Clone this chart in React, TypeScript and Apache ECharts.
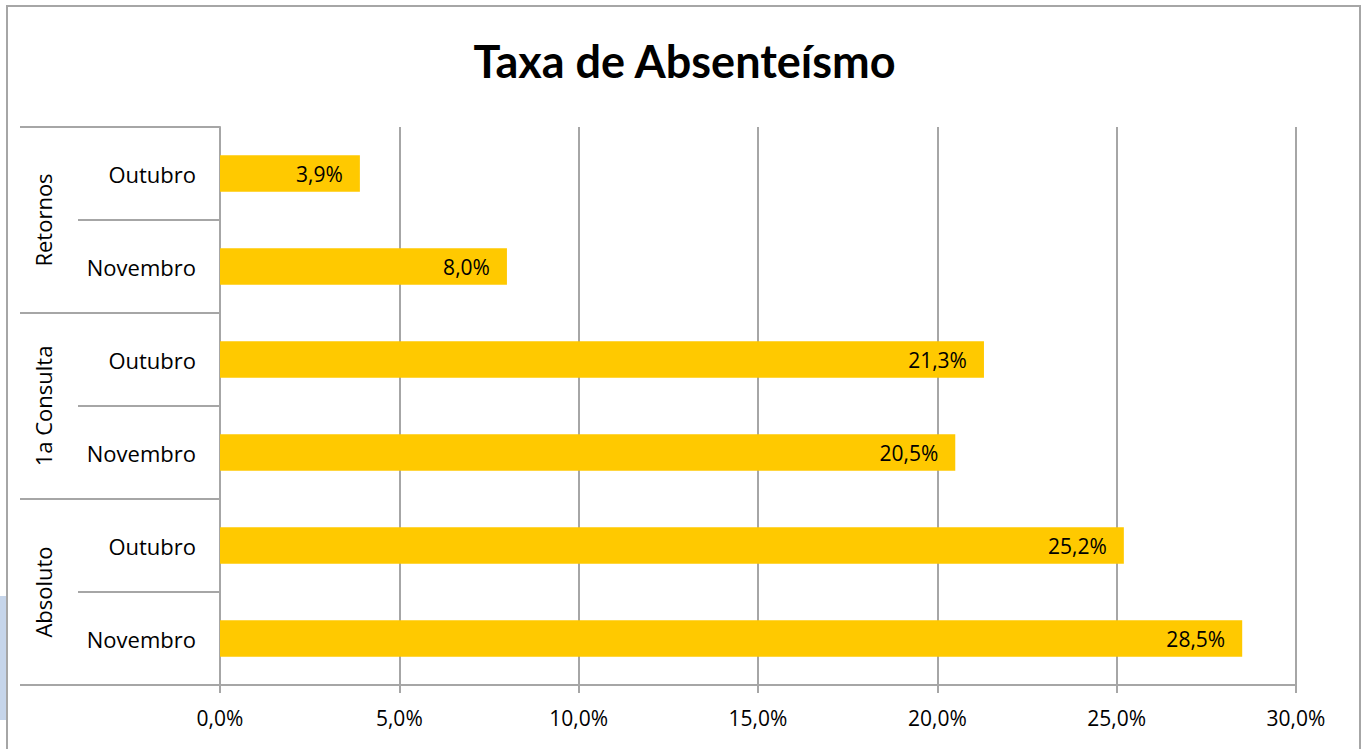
import React, { useEffect, useRef } from "react";
import * as echarts from "echarts";

const title = "Taxa de Absenteísmo";
const months = ["Outubro", "Novembro", "Outubro", "Novembro", "Outubro", "Novembro"];
const groups = ["Retornos", "1a Consulta", "Absoluto"];
const values = [3.9, 8.0, 21.3, 20.5, 25.2, 28.5];
const xMin = 0;
const xMax = 30;
const xStep = 5;

const FONT = "'Open Sans', Lato, sans-serif";
const TITLE_FONT = "Lato, 'Open Sans', sans-serif";
const fmt = (v: number) => v.toFixed(1).replace(".", ",") + "%";

export default function App() {
  const ref = useRef<HTMLDivElement>(null);
  useEffect(() => {
    if (!ref.current) return;
    const chart = echarts.init(ref.current, undefined, { renderer: "svg" });
    const gray = "#a6a6a6";
    chart.setOption({
      animation: false,
      backgroundColor: "#ffffff",
      textStyle: { fontFamily: FONT },
      title: {
        text: title,
        left: "center",
        top: 33,
        textStyle: { fontFamily: TITLE_FONT, fontSize: 45, fontWeight: "bold", color: "#000" },
      },
      graphic: [
        {
          type: "rect",
          shape: { x: 7, y: 6, width: 1353, height: 760 },
          style: { fill: "none", stroke: "#a6a6a6", lineWidth: 2 },
          silent: true,
        },
        {
          type: "rect",
          shape: { x: 0, y: 596, width: 6, height: 124 },
          style: { fill: "#c6d5ea" },
          silent: true,
        },
      ],
      grid: { left: 220, right: 73, top: 127, bottom: 64, containLabel: false },
      xAxis: {
        type: "value",
        min: xMin,
        max: xMax,
        interval: xStep,
        axisLine: { show: true, lineStyle: { color: gray, width: 2 } },
        axisTick: { show: true, length: 8, lineStyle: { color: gray, width: 2 } },
        axisLabel: {
          formatter: (v: number) => fmt(v),
          fontSize: 21,
          color: "#000",
          margin: 22,
          fontFamily: FONT,
        },
        splitLine: { show: true, lineStyle: { color: gray, width: 2 } },
      },
      yAxis: [
        {
          type: "category",
          inverse: true,
          data: months,
          axisLine: { show: true, lineStyle: { color: gray, width: 2 } },
          axisTick: { show: true, length: 142, lineStyle: { color: gray, width: 2 } },
          axisLabel: { fontSize: 22, color: "#000", margin: 24, fontFamily: FONT },
        },
        {
          type: "category",
          inverse: true,
          position: "left",
          data: groups,
          axisLine: { show: false },
          axisTick: { show: true, length: 200, lineStyle: { color: gray, width: 2 } },
          axisLabel: { fontSize: 22, color: "#000", margin: 166, rotate: 90, fontFamily: FONT },
        },
      ],
      series: [
        {
          type: "bar",
          yAxisIndex: 0,
          data: values,
          barCategoryGap: "61%",
          itemStyle: { color: "#ffc900" },
          label: {
            show: true,
            position: "insideRight",
            distance: 17,
            formatter: (p: any) => fmt(p.value),
            fontSize: 21,
            color: "#000",
            fontFamily: FONT,
          },
        },
      ],
    });
    return () => chart.dispose();
  }, []);
  return (
    <div
      ref={ref}
      style={{ position: "absolute", left: 0, top: 0, width: 1369, height: 749 }}
    />
  );
}
